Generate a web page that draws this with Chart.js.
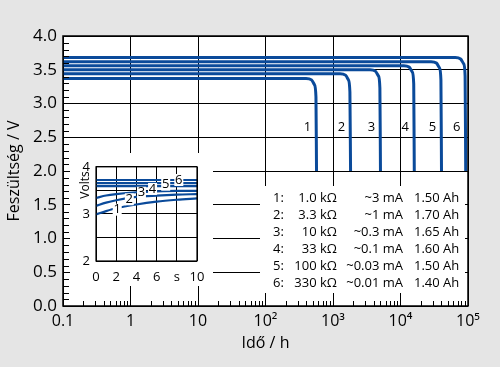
<!DOCTYPE html>
<html>
<head>
<meta charset="utf-8">
<script src="https://cdn.jsdelivr.net/npm/chart.js@4.4.0/dist/chart.umd.min.js"></script>
<style>
  body { margin: 0; background: #e5e5e5; }
  #wrap { position: relative; width: 500px; height: 367px; }
  #main { position: absolute; left: 0; top: 0; }
  #inset { position: absolute; left: 70px; top: 153px; }
</style>
</head>
<body>
<div id="wrap">
  <canvas id="main" width="500" height="367"></canvas>
  <canvas id="inset" width="143" height="133"></canvas>
</div>
<script>
// discharge curves, hours vs volts
let hours = [
  [0.1, 400, 480, 530, 559, 570],
  [0.1, 1270, 1530, 1690, 1780, 1820],
  [0.1, 3540, 4240, 4700, 4950, 5050],
  [0.1, 11200, 13400, 14900, 15700, 16000],
  [0.1, 28400, 34000, 37700, 39700, 40500],
  [0.1, 64800, 77700, 86000, 90600, 92500]
]
let volts = [
  [3.37, 3.37, 3.35, 3.28, 3.10, 2.0],
  [3.44, 3.44, 3.42, 3.35, 3.17, 2.0],
  [3.50, 3.50, 3.48, 3.41, 3.23, 2.0],
  [3.56, 3.56, 3.54, 3.47, 3.29, 2.0],
  [3.62, 3.62, 3.60, 3.53, 3.35, 2.0],
  [3.68, 3.68, 3.66, 3.59, 3.41, 2.0]
]
let curveLabels = ["1", "2", "3", "4", "5", "6"]
let curveLabelVolt = 2.65

let tickHours = [0.1, 1, 10, 100, 1000, 10000, 100000]
let tickHourLabels = ["0.1", "1", "10", "10²", "10³", "10⁴", "10⁵"]

// legend table
let resistors = ["1.0 kΩ", "3.3 kΩ", "10 kΩ", "33 kΩ", "100 kΩ", "330 kΩ"]
let currents = ["~3 mA", "~1 mA", "~0.3 mA", "~0.1 mA", "~0.03 mA", "~0.01 mA"]
let capacities = ["1.50 Ah", "1.70 Ah", "1.65 Ah", "1.60 Ah", "1.50 Ah", "1.40 Ah"]

// inset: first seconds
let insetSeconds = [0, 1, 2, 4, 6, 8, 10]
let insetVolts = [
  [2.99, 3.06, 3.12, 3.20, 3.26, 3.30, 3.33],
  [3.17, 3.24, 3.29, 3.36, 3.39, 3.41, 3.42],
  [3.34, 3.39, 3.42, 3.46, 3.48, 3.49, 3.49],
  [3.59, 3.59, 3.59, 3.59, 3.59, 3.59, 3.59],
  [3.655, 3.655, 3.655, 3.655, 3.655, 3.655, 3.655],
  [3.72, 3.72, 3.72, 3.72, 3.72, 3.72, 3.72]
]
let insetLabelSec = [2.1, 3.3, 4.5, 5.6, 6.9, 8.2]
let insetLabelVolt = [3.09, 3.31, 3.45, 3.53, 3.62, 3.72]

let blue = "#0a4a9a"
let ink = "#000000"
let font = "Open Sans"

let mainDecor = {
  id: "mainDecor",
  beforeDraw(chart) {
    let c = chart.ctx
    let a = chart.chartArea
    c.save()
    c.fillStyle = "#e5e5e5"
    c.fillRect(0, 0, chart.width, chart.height)
    c.fillStyle = "#ffffff"
    c.fillRect(a.left, a.top, a.right - a.left, a.bottom - a.top)
    c.restore()
  },
  afterDatasetsDraw(chart) {
    let c = chart.ctx
    let a = chart.chartArea
    let xs = chart.scales.x
    let ys = chart.scales.y
    c.save()
    // white box behind the table
    c.fillStyle = "#ffffff"
    c.fillRect(260, 186, 205, 107)

    c.strokeStyle = ink
    c.lineWidth = 1
    c.beginPath()
    // minor ticks on the left
    for (let k = 1; k < 40; k++) {
      if (k % 5 == 0) continue
      let py = Math.round(ys.getPixelForValue(k / 10)) + 0.5
      c.moveTo(a.left, py)
      c.lineTo(a.left + 6, py)
    }
    // minor ticks at the bottom
    for (let d = 0.1; d < 1e5; d *= 10) {
      for (let m = 2; m < 10; m++) {
        let px = Math.round(xs.getPixelForValue(d * m)) + 0.5
        c.moveTo(px, a.bottom)
        c.lineTo(px, a.bottom - 5)
      }
    }
    c.stroke()

    // frame
    c.lineWidth = 1.5
    c.strokeRect(a.left, a.top, a.right - a.left, a.bottom - a.top)

    // curve numbers
    c.fillStyle = ink
    c.font = "13px '" + font + "'"
    c.textAlign = "center"
    c.textBaseline = "middle"
    let ly = ys.getPixelForValue(curveLabelVolt)
    hours.forEach((h, i) => {
      c.fillText(curveLabels[i], xs.getPixelForValue(h[h.length - 1]) - 9, ly)
    })

    // table
    c.font = "13px '" + font + "'"
    for (let i = 0; i < resistors.length; i++) {
      let ty = 198 + i * 17
      c.textAlign = "left"
      c.fillText(curveLabels[i] + ":", 273, ty)
      c.textAlign = "right"
      c.fillText(resistors[i], 337, ty)
      c.fillText(currents[i], 403, ty)
      c.textAlign = "left"
      c.fillText(capacities[i], 414, ty)
    }
    c.restore()
  }
}

new Chart(document.getElementById("main"), {
  type: "line",
  data: {
    datasets: hours.map((h, i) => ({
      label: curveLabels[i],
      data: h.map((t, j) => ({ x: t, y: volts[i][j] })),
      borderColor: blue,
      borderWidth: 3,
      pointRadius: 0,
      cubicInterpolationMode: "monotone",
      fill: false
    }))
  },
  options: {
    responsive: false,
    animation: false,
    devicePixelRatio: 1,
    layout: { padding: { left: 3, top: 36, right: 32, bottom: 0 } },
    plugins: { legend: { display: false }, tooltip: { enabled: false } },
    scales: {
      x: {
        type: "logarithmic",
        min: 0.1,
        max: 100000,
        afterBuildTicks: s => { s.ticks = tickHours.map(v => ({ value: v })) },
        afterFit: s => { s.height = 61 },
        grid: { color: ink, lineWidth: 1, drawTicks: false },
        border: { display: false },
        ticks: {
          padding: 6, color: ink, autoSkip: false, maxRotation: 0,
          font: { family: font, size: 16 },
          callback: (v, i) => tickHourLabels[i]
        },
        title: {
          display: true, text: "Idő / h", color: ink,
          font: { family: font, size: 16 }, padding: { top: 0, bottom: 14 }
        }
      },
      y: {
        min: 0,
        max: 4,
        afterFit: s => { s.width = 60 },
        grid: { color: ink, lineWidth: 1, drawTicks: false },
        border: { display: false },
        ticks: {
          stepSize: 0.5, padding: 6, color: ink,
          font: { family: font, size: 17 },
          callback: v => v.toFixed(1)
        },
        title: {
          display: true, text: "Feszültség / V", color: ink,
          font: { family: font, size: 16 }, padding: { top: 2, bottom: 0 }
        }
      }
    }
  },
  plugins: [mainDecor]
})

let insetDecor = {
  id: "insetDecor",
  beforeDraw(chart) {
    let c = chart.ctx
    c.save()
    c.fillStyle = "#ffffff"
    c.fillRect(0, 0, chart.width, chart.height)
    c.restore()
  },
  afterDatasetsDraw(chart) {
    let c = chart.ctx
    let a = chart.chartArea
    let xs = chart.scales.x
    let ys = chart.scales.y
    c.save()
    c.strokeStyle = ink
    c.lineWidth = 1.2
    c.strokeRect(a.left, a.top, a.right - a.left, a.bottom - a.top)
    c.font = "13px '" + font + "'"
    c.textAlign = "center"
    c.textBaseline = "middle"
    insetLabelSec.forEach((s, i) => {
      let px = xs.getPixelForValue(s)
      let py = ys.getPixelForValue(insetLabelVolt[i])
      c.fillStyle = "#ffffff"
      c.fillRect(px - 4.5, py - 6, 9, 12)
      c.fillStyle = ink
      c.fillText(curveLabels[i], px, py)
    })
    // Volts label
    c.font = "12px '" + font + "'"
    c.translate(16, 32)
    c.rotate(-Math.PI / 2)
    c.fillText("Volts", 0, 0)
    c.restore()
  }
}

new Chart(document.getElementById("inset"), {
  type: "line",
  data: {
    datasets: insetVolts.map((vs, i) => ({
      label: curveLabels[i],
      data: insetSeconds.map((s, j) => ({ x: s, y: vs[j] })),
      borderColor: blue,
      borderWidth: 2.2,
      pointRadius: 0,
      cubicInterpolationMode: "monotone",
      fill: false
    }))
  },
  options: {
    responsive: false,
    animation: false,
    devicePixelRatio: 1,
    layout: { padding: { left: 0, top: 9, right: 16, bottom: 0 } },
    plugins: { legend: { display: false }, tooltip: { enabled: false } },
    scales: {
      x: {
        type: "linear",
        min: 0,
        max: 10,
        afterFit: s => { s.height = 25 },
        grid: { color: ink, lineWidth: 1, drawTicks: false },
        border: { display: false },
        ticks: {
          stepSize: 2, padding: 8, color: ink, maxRotation: 0,
          font: { family: font, size: 13 },
          callback: v => (v == 8 ? "s" : v)
        }
      },
      y: {
        min: 2,
        max: 4,
        afterFit: s => { s.width = 26 },
        grid: { color: ink, lineWidth: 1, drawTicks: false },
        border: { display: false },
        ticks: {
          stepSize: 0.5, padding: 6, color: ink,
          font: { family: font, size: 13 },
          callback: v => (Number.isInteger(v) ? v : "")
        }
      }
    }
  },
  plugins: [insetDecor]
})
</script>
</body>
</html>
